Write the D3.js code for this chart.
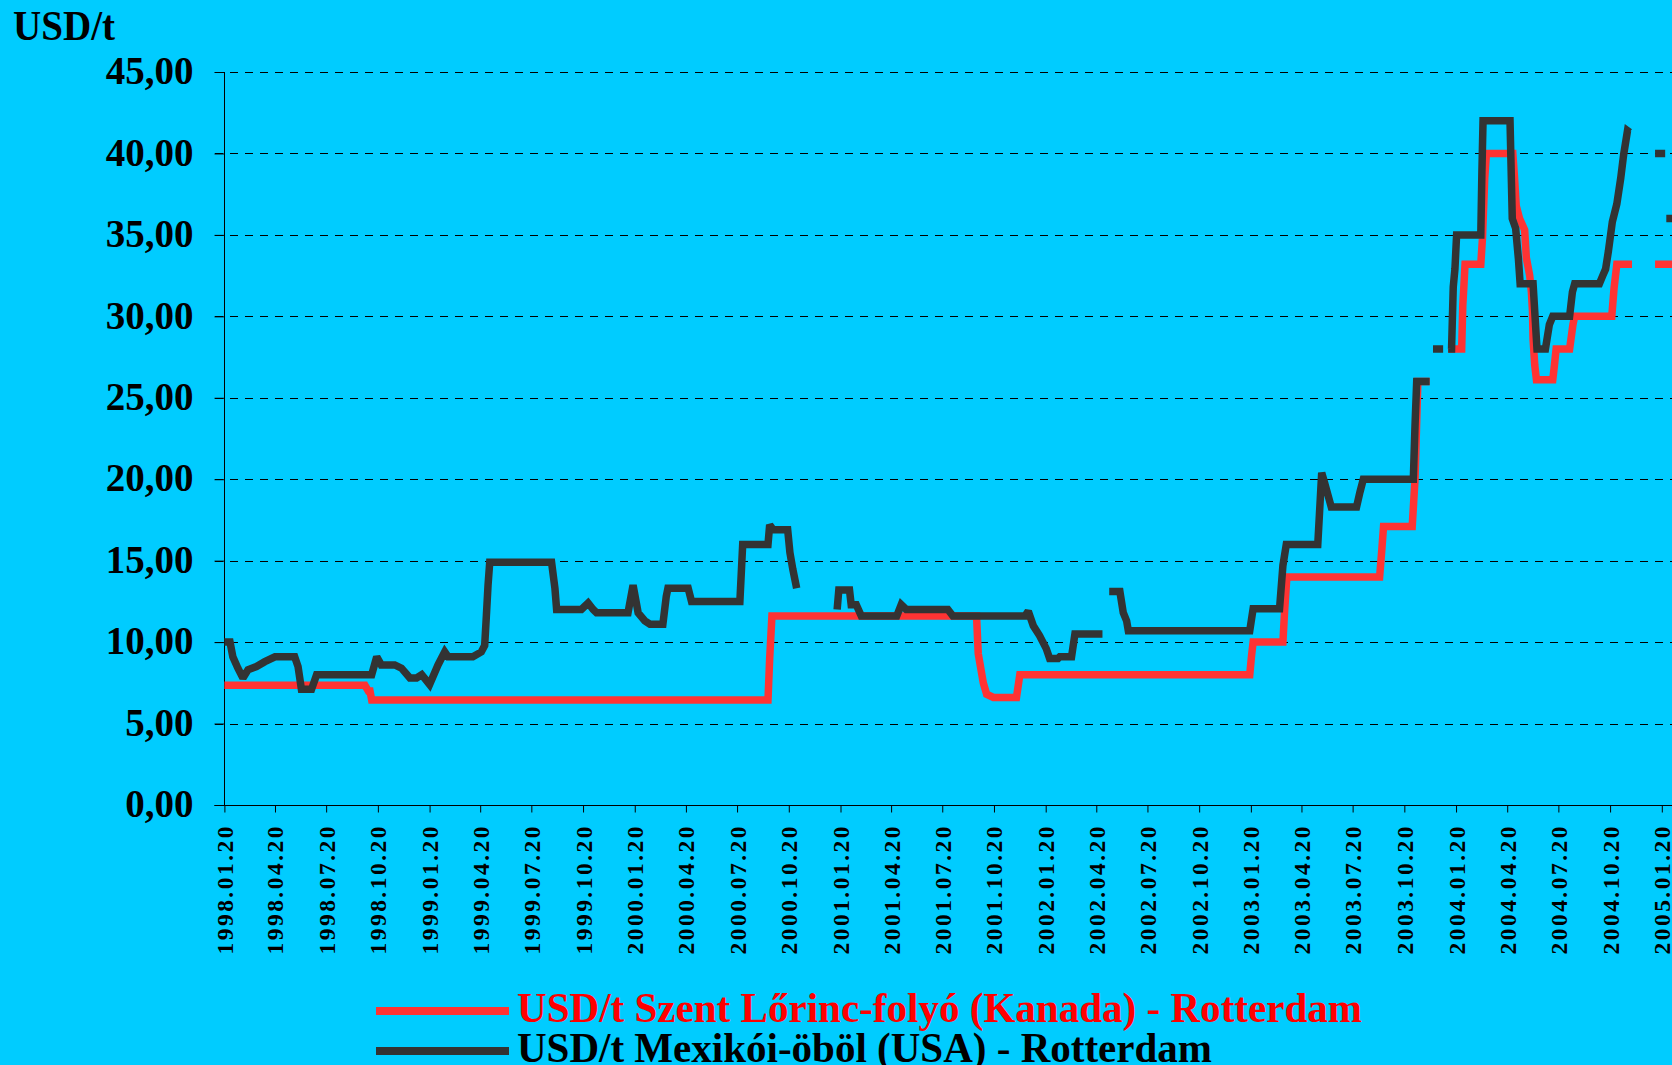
<!DOCTYPE html>
<html><head><meta charset="utf-8">
<script src="https://cdn.jsdelivr.net/npm/d3@7"></script>
<style>
html,body{margin:0;padding:0;background:#00CCFF;overflow:hidden}
svg{display:block}
text{font-family:"Liberation Serif","Times New Roman",serif;font-weight:bold}
</style></head><body>
<svg id="c" width="1672" height="1065"></svg>
<script>
const tickLabels = ["1998.01.20","1998.04.20","1998.07.20","1998.10.20","1999.01.20","1999.04.20","1999.07.20","1999.10.20",
  "2000.01.20","2000.04.20","2000.07.20","2000.10.20","2001.01.20","2001.04.20","2001.07.20","2001.10.20",
  "2002.01.20","2002.04.20","2002.07.20","2002.10.20","2003.01.20","2003.04.20","2003.07.20","2003.10.20",
  "2004.01.20","2004.04.20","2004.07.20","2004.10.20","2005.01.20"];
const yTickValues = [0,5,10,15,20,25,30,35,40,45];
const seriesNames = ["USD/t Szent Lőrinc-folyó (Kanada) - Rotterdam","USD/t Mexikói-öböl (USA) - Rotterdam"];

const redDates = ["1998-01-20","1998-09-27","1998-10-03","1998-10-06","1998-10-09","2000-09-13","2000-09-16","2000-09-20",
  "2001-09-19","2001-09-22","2001-10-01","2001-10-07","2001-10-19","2001-11-29","2001-12-02","2001-12-05",
  "2003-01-18","2003-01-21","2003-01-24","2003-03-18","2003-03-21","2003-03-25","2003-09-06","2003-09-10","2003-09-13",
  "2003-11-03","2003-11-08","2003-11-13","2003-12-04","2003-12-20","2004-01-06","2004-01-30","2004-02-01","2004-02-03",
  "2004-02-05","2004-03-04","2004-03-07","2004-03-11","2004-03-14","2004-04-30","2004-05-03","2004-05-06","2004-05-12",
  "2004-05-21","2004-05-24","2004-05-30","2004-06-02","2004-06-04","2004-06-05","2004-06-08","2004-06-11","2004-07-10",
  "2004-07-13","2004-07-16","2004-08-09","2004-08-15","2004-08-18","2004-10-23","2004-10-27","2004-11-01","2004-11-28",
  "2004-12-15","2005-01-08","2005-02-21"];
const redValues = [7.35,7.35,7.0,7.0,6.45,6.45,9.0,11.6,
  11.6,9.3,7.5,6.8,6.6,6.6,7.3,8.0,
  8.0,9.1,10.0,10.0,11.9,14.0,14.0,15.7,17.1,
  17.1,20.0,26.0,26.0,null,28.0,28.0,30.7,31.9,
  33.2,33.2,34.8,38.5,40.0,40.0,38.5,36.8,36.0,
  35.3,33.6,32.5,31.5,30.3,28.6,27.0,26.1,26.1,
  27.0,28.0,28.0,29.5,30.0,30.0,31.7,33.2,33.2,
  null,33.2,33.2];

const blackDates = ["1998-01-20","1998-01-30","1998-02-04","1998-02-13","1998-02-22","1998-03-03","1998-03-18","1998-04-02",
  "1998-04-20","1998-05-25","1998-05-31","1998-06-06","1998-06-24","1998-07-03","1998-10-09","1998-10-18","1998-10-26",
  "1998-11-19","1998-12-01","1998-12-16","1998-12-28","1999-01-06","1999-01-20","1999-02-04","1999-02-16","1999-02-22",
  "1999-04-07","1999-04-22","1999-04-28","1999-05-01","1999-05-04","1999-05-07","1999-08-25","1999-08-31","1999-09-03",
  "1999-10-17","1999-10-29","1999-11-07","1999-11-13","2000-01-08","2000-01-17","2000-01-26","2000-02-07","2000-02-16",
  "2000-03-10","2000-03-16","2000-03-19","2000-04-24","2000-04-30","2000-07-25","2000-07-30","2000-09-13","2000-09-16",
  "2000-09-22","2000-10-18","2000-10-22","2000-10-27","2000-11-03","2000-12-01","2001-01-14","2001-01-17","2001-02-05",
  "2001-02-08","2001-02-17","2001-02-26","2001-04-30","2001-05-08","2001-05-17","2001-07-30","2001-08-08","2001-12-14",
  "2001-12-20","2001-12-29","2002-01-09","2002-01-21","2002-01-27","2002-02-11","2002-02-14","2002-03-07","2002-03-13",
  "2002-05-01","2002-05-07","2002-05-13","2002-06-01","2002-06-07","2002-06-13","2002-06-16","2003-01-18","2003-01-24",
  "2003-03-12","2003-03-18","2003-03-24","2003-05-19","2003-05-23","2003-05-26","2003-05-31","2003-06-12","2003-07-27",
  "2003-08-02","2003-08-08","2003-11-05","2003-11-08","2003-11-11","2003-12-04","2003-12-07","2003-12-10","2003-12-28",
  "2004-01-01","2004-01-06","2004-01-12","2004-01-15","2004-01-18","2004-01-21","2004-03-04","2004-03-06","2004-03-08",
  "2004-04-25","2004-04-29","2004-05-05","2004-05-10","2004-05-13","2004-06-05","2004-06-12","2004-06-27","2004-07-04",
  "2004-07-10","2004-08-09","2004-08-14","2004-08-18","2004-10-01","2004-10-07","2004-10-12","2004-10-17","2004-10-24",
  "2004-11-01","2004-11-08","2004-11-13","2004-11-20","2004-11-24","2004-12-10","2005-01-08","2005-01-26","2005-01-27",
  "2005-01-28","2005-02-21"];
const blackValues = [10.0,10.0,9.1,8.4,7.8,8.3,8.5,8.8,
  9.1,9.1,8.5,7.1,7.1,8.0,8.0,9.1,8.6,
  8.6,8.4,7.8,7.8,8.0,7.4,8.6,9.4,9.1,
  9.1,9.4,9.8,11.6,13.5,14.9,14.9,13.3,12.0,
  12.0,12.4,12.0,11.8,11.8,13.5,11.8,11.3,11.1,
  11.1,12.8,13.3,13.3,12.5,12.5,16.0,16.0,17.2,
  16.9,16.9,15.5,14.5,13.3,null,12.0,13.2,13.2,
  12.3,12.3,11.6,11.6,12.3,12.0,12.0,11.6,11.6,
  11.9,11.0,10.4,9.6,9.0,9.0,9.1,9.1,10.5,
  10.5,null,13.1,13.1,11.8,11.3,10.7,10.7,12.05,
  12.05,14.7,16.0,16.0,18.5,20.4,19.8,18.3,18.3,
  19.2,20.0,20.0,23.3,26.0,26.0,null,28.0,28.0,
  null,28.0,28.0,31.8,32.9,35.0,35.0,38.9,42.0,
  42.0,36.0,35.4,33.5,32.0,32.0,28.0,28.0,29.5,
  30.0,30.0,31.5,32.0,32.0,32.5,32.9,34.0,35.8,
  36.9,38.5,39.9,41.4,41.3,null,40.0,40.0,null,
  36.0,36.0];

const parse = d3.utcParse("%Y-%m-%d");
const parseTick = d3.utcParse("%Y.%m.%d");
const W = 1672, H = 1065;
const svg = d3.select("#c");
svg.append("rect").attr("width", W).attr("height", H).attr("fill", "#00CCFF");

const x = d3.scaleUtc().domain([parseTick("1998.01.20"), parseTick("2005.01.20")]).range([224.4, 1661.8]);
const y = d3.scaleLinear().domain([0, 45]).range([805, 72]);

// gridlines
const grid = svg.append("g");
grid.selectAll("line").data(yTickValues.filter(v => v > 0)).join("line")
  .attr("x1", 215).attr("x2", W)
  .attr("y1", d => Math.round(y(d)) + 0.5).attr("y2", d => Math.round(y(d)) + 0.5)
  .attr("stroke", "#000").attr("stroke-width", 1).attr("stroke-dasharray", "8,7");

// y axis
const yAxis = d3.axisLeft(y).tickValues(yTickValues).tickSize(10).tickPadding(21)
  .tickFormat(d => d3.format(".2f")(d).replace(".", ","));
const gy = svg.append("g").attr("transform", "translate(224.5,0)").call(yAxis);
gy.select(".domain").attr("stroke", "#000").attr("d", "M0," + y(45) + "V" + y(0));
gy.selectAll(".tick line").attr("stroke", "#000");
gy.selectAll(".tick text").attr("font-size", 39).attr("font-family", '"Liberation Serif",serif')
  .attr("font-weight", "bold").attr("fill", "#000").attr("dy", "0.30em");

// x axis
const xAxis = d3.axisBottom(x).tickValues(tickLabels.map(parseTick)).tickSize(7)
  .tickFormat(d3.utcFormat("%Y.%m.%d"));
const gx = svg.append("g").attr("transform", "translate(0,805.5)").call(xAxis);
gx.select(".domain").attr("stroke", "#000").attr("d", "M214.5,0H" + W);
gx.selectAll(".tick line").attr("stroke", "#000");
gx.selectAll(".tick text")
  .attr("font-size", 23.5).attr("font-family", '"Liberation Serif",serif').attr("font-weight", "bold").attr("fill", "#000")
  .attr("text-anchor", "start").attr("dy", null).attr("y", 0)
  .attr("transform", "translate(8,149) rotate(-90)")
  .attr("textLength", 128).attr("lengthAdjust", "spacing");

// series
function build(dates, values) { return dates.map((d, i) => ({ date: parse(d), value: values[i] })); }
const redData = build(redDates, redValues);
const blackData = build(blackDates, blackValues);
const line = d3.line().defined(d => d.value !== null).x(d => x(d.date)).y(d => y(d.value));
const plot = svg.append("g");
plot.append("path").datum(redData).attr("d", line).attr("fill", "none")
  .attr("stroke", "#FF3333").attr("stroke-width", 7.5).attr("stroke-linejoin", "miter").attr("stroke-miterlimit", 2);
plot.append("path").datum(blackData).attr("d", line).attr("fill", "none")
  .attr("stroke", "#333333").attr("stroke-width", 7.5).attr("stroke-linejoin", "miter").attr("stroke-miterlimit", 2);

// y title
svg.append("text").attr("x", 13).attr("y", 40).attr("font-size", 42).attr("fill", "#000")
  .attr("textLength", 102).attr("lengthAdjust", "spacingAndGlyphs").text("USD/t");

// legend
const legendColors = ["#FF3333", "#333333"];
const legendText = ["#FF0000", "#000000"];
const legendY = [1011, 1051];
const legendW = [845, 695];
const lg = svg.append("g");
seriesNames.forEach((name, i) => {
  lg.append("line").attr("x1", 376).attr("x2", 509).attr("y1", legendY[i]).attr("y2", legendY[i])
    .attr("stroke", legendColors[i]).attr("stroke-width", 8);
  lg.append("text").attr("x", 517).attr("y", legendY[i] + 11).attr("font-size", 43)
    .attr("fill", legendText[i]).attr("textLength", legendW[i]).attr("lengthAdjust", "spacingAndGlyphs").text(name);
});
</script>
</body></html>
